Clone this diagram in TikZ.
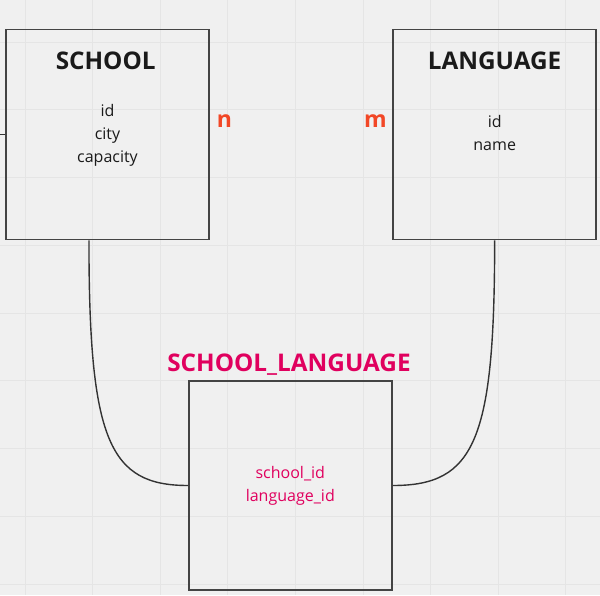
\documentclass[tikz,border=0pt]{standalone}
\usepackage{fontspec}
\setmainfont{Open Sans}
\definecolor{bgc}{HTML}{F0F0F0}
\definecolor{gridc}{HTML}{E5E5E5}
\definecolor{boxc}{HTML}{444444}
\definecolor{linec}{HTML}{333333}
\definecolor{txtc}{HTML}{1A1A1A}
\definecolor{pinkc}{HTML}{E0005E}
\definecolor{redc}{HTML}{F24726}
\begin{document}
\begin{tikzpicture}[x=1pt,y=-1pt,
  entity/.style={draw=boxc,line width=1.8pt,rectangle,minimum width=203.3pt,minimum height=210pt,inner sep=0pt},
  titletxt/.style={font=\fontsize{24.3}{28}\selectfont\bfseries,text=txtc,anchor=base,inner sep=0pt},
  bodytxt/.style={font=\fontsize{16}{22}\selectfont,text=txtc,anchor=base,inner sep=0pt},
  cardtxt/.style={font=\fontsize{23}{28}\selectfont\bfseries,text=redc,anchor=base,inner sep=0pt},
  link/.style={draw=linec,line width=1.4pt}]
\useasboundingbox (0,0) rectangle (600,595);
\fill[bgc] (0,0) rectangle (600,595);
\foreach \k in {0,...,8}{
  \draw[gridc,line width=1pt] ({25+67.6*\k},0) -- ({25+67.6*\k},595);
  \draw[gridc,line width=1pt] (0,{42+67.75*\k}) -- (600,{42+67.75*\k});
}
% entities
\node[entity] (school) at (107.35,134.5) {};
\node[entity] (lang) at (494.65,134.5) {};
\node[entity,minimum width=203pt,minimum height=209.5pt] (sl) at (290.5,485.5) {};
% titles
\node[titletxt] (schoolT) at (105.7,69.3) {SCHOOL};
\node[titletxt] (langT) at (494.5,69.3) {LANGUAGE};
\node[titletxt,text=pinkc] (slT) at (289,371.5) {SCHOOL\_LANGUAGE};
% body
\node[bodytxt] (s1) at (107.5,116.7) {id};
\node[bodytxt] (s2) at (107.5,139.3) {city};
\node[bodytxt] (s3) at (107.5,162) {capacity};
\node[bodytxt] (l1) at (494.7,127.7) {id};
\node[bodytxt] (l2) at (494.7,150.3) {name};
\node[bodytxt,text=pinkc] (j1) at (290.3,478.5) {school\_id};
\node[bodytxt,text=pinkc] (j2) at (290.3,501) {language\_id};
% cardinalities
\node[cardtxt] (cn) at (224.5,127) {n};
\node[cardtxt] (cm) at (375.3,127) {m};
% connectors
\draw[link] ([xshift=-18.4pt]school.south) .. controls +(0,200) and +(-79,0) .. (sl.west);
\draw[link] (lang.south) .. controls +(0,200) and +(82,0) .. (sl.east);
\coordinate (stub) at (0,134.7);
\draw[link] (stub) -- (stub -| school.west);
\end{tikzpicture}
\end{document}
